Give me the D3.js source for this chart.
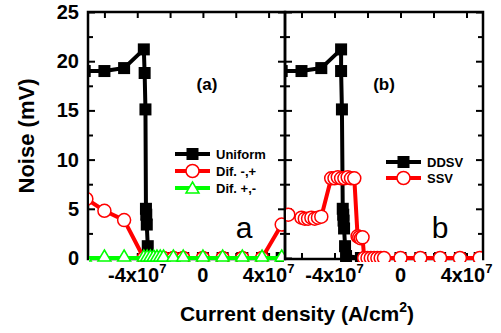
<!DOCTYPE html>
<html>
<head>
<meta charset="utf-8">
<style>
body { margin: 0; background: #fff; }
svg { font-family: "Liberation Sans", Arial, sans-serif; }
.frame { fill: none; stroke: #000; stroke-width: 2.5px; }
.tick line { stroke: #000; stroke-width: 2px; }
.domain { display: none; }
</style>
</head>
<body>
<svg width="501" height="333"></svg>
<script src="https://d3js.org/d3.v7.min.js"></script>
<script>
// current density in units of 1e7 A/cm2, noise in mV

// panel (a)
const uniformX = [-7.2, -6.0, -4.8, -3.6, -3.55, -3.5, -3.47, -3.45, -3.42, -3.36, -3.3, -2.4, -1.2, 0, 1.2, 2.4, 3.6, 4.8];
const uniformY = [19.0, 19.0, 19.3, 21.2, 18.8, 15.1, 5.0, 4.4, 3.4, 1.2, 0.2, 0, 0, 0, 0, 0, 0, 0];

const difMPX = [-7.1, -6.0, -4.8, -3.6, -3.4, -3.2, -3.0, -2.8, -2.6, -2.4, -1.8, -1.2, 0, 1.2, 2.4, 3.6, 4.8];
const difMPY = [6.0, 4.8, 3.85, 0, 0, 0, 0, 0, 0, 0, 0, 0, 0, 0, 0, 0, 3.4];

const difPMX = [-7.2, -6.0, -4.8, -3.6, -3.4, -3.2, -3.0, -2.8, -2.6, -2.4, -1.8, -1.2, 0, 1.2, 2.4, 3.6, 4.8];
const difPMY = [0, 0, 0, 0, 0, 0, 0, 0, 0, 0, 0, 0, 0, 0, 0, 0, 0];

// panel (b)
const ddsvX = [-7.2, -6.0, -4.8, -3.6, -3.6, -3.55, -3.5, -3.47, -3.45, -3.42, -3.36, -3.3, -2.4, -1.2, 0, 1.2, 2.4, 3.6, 4.8];
const ddsvY = [19.0, 19.0, 19.3, 21.2, 19.0, 15.1, 5.0, 4.4, 3.8, 3.0, 1.2, 0.2, 0, 0, 0, 0, 0, 0, 0];

const ssvX = [-6.8, -6.0, -5.8, -5.6, -5.4, -5.2, -5.0, -4.8, -4.2, -4.0, -3.8, -3.6, -3.4, -3.2, -3.0, -2.8, -2.6, -2.5, -2.4, -2.3, -2.2, -2.0, -1.8, -1.6, -1.4, -1.2, -1.0, 0, 1.2, 2.4, 3.6, 4.8];
const ssvY = [4.4, 4.1, 4.0, 4.0, 4.1, 4.0, 4.1, 4.2, 8.1, 8.1, 8.2, 8.1, 8.1, 8.2, 8.1, 8.1, 2.2, 2.1, 2.0, 2.1, 0, 0, 0, 0, 0, 0, 0, 0, 0, 0, 0, 0];

const xMajor = [-4, 0, 4];
const xMinor = [-6, -4, -2, 0, 2, 4];
const yMajor = [0, 5, 10, 15, 20, 25];
const yMinor = [2.5, 7.5, 12.5, 17.5, 22.5];

const svg = d3.select('svg');
const yTop = 12, yBot = 259;

const y = d3.scaleLinear().domain([0, 25]).range([yBot - 1, yTop]);

const panels = [
  { id: 'a', x0: 88, x1: 285, tag: '(a)', letter: 'a',
    series: [
      { name: 'Uniform', xs: uniformX, ys: uniformY, color: '#000', shape: 'square' },
      { name: 'Dif. -,+', xs: difMPX, ys: difMPY, color: '#ff0000', shape: 'circle' },
      { name: 'Dif. +,-', xs: difPMX, ys: difPMY, color: '#00ff00', shape: 'triangle' }
    ],
    legend: { x: 175, y: 154, dy: 17 }, tagPos: [207, 90], letterPos: [244, 238] },
  { id: 'b', x0: 285, x1: 483, tag: '(b)', letter: 'b',
    series: [
      { name: 'DDSV', xs: ddsvX, ys: ddsvY, color: '#000', shape: 'square' },
      { name: 'SSV', xs: ssvX, ys: ssvY, color: '#ff0000', shape: 'circle' }
    ],
    legend: { x: 386, y: 162, dy: 16 }, tagPos: [384, 90], letterPos: [440, 238] }
];

function drawMarker(g, shape, color, cx, cy) {
  if (shape === 'square') {
    g.append('rect').attr('x', cx - 6).attr('y', cy - 6).attr('width', 12).attr('height', 12)
      .attr('fill', color);
  } else if (shape === 'circle') {
    g.append('circle').attr('cx', cx).attr('cy', cy).attr('r', 6.5)
      .attr('fill', '#fff').attr('stroke', color).attr('stroke-width', 1.5);
  } else {
    g.append('path').attr('d', `M${cx},${cy - 8}L${cx + 6.5},${cy + 3}L${cx - 6.5},${cy + 3}Z`)
      .attr('fill', '#fff').attr('stroke', color).attr('stroke-width', 1.5);
  }
}

panels.forEach(p => {
  const x = d3.scaleLinear().domain([-7, 5]).range([p.x0, p.x1]);

  // ticks, pointing inward
  svg.append('g').attr('transform', `translate(0,${yBot})`)
    .call(d3.axisBottom(x).tickValues(xMinor).tickSize(-6).tickFormat(''));
  svg.append('g').attr('transform', `translate(0,${yTop})`)
    .call(d3.axisTop(x).tickValues(xMinor).tickSize(-6).tickFormat(''));
  svg.append('g').attr('transform', `translate(${p.x0},0)`)
    .call(d3.axisLeft(y).tickValues(yMajor).tickSize(-7).tickFormat(''));
  svg.append('g').attr('transform', `translate(${p.x0},0)`)
    .call(d3.axisLeft(y).tickValues(yMinor).tickSize(-5).tickFormat(''));
  svg.append('g').attr('transform', `translate(${p.x1},0)`)
    .call(d3.axisRight(y).tickValues(yMajor).tickSize(-7).tickFormat(''));
  svg.append('g').attr('transform', `translate(${p.x1},0)`)
    .call(d3.axisRight(y).tickValues(yMinor).tickSize(-5).tickFormat(''));

  svg.append('rect').attr('class', 'frame')
    .attr('x', p.x0).attr('y', yTop).attr('width', p.x1 - p.x0).attr('height', yBot - yTop);

  svg.append('clipPath').attr('id', 'clip' + p.id)
    .append('rect').attr('x', p.x0 + 1).attr('y', yTop).attr('width', p.x1 - p.x0 - 2).attr('height', yBot - yTop + 3);

  const plot = svg.append('g').attr('clip-path', `url(#clip${p.id})`);
  p.series.forEach(s => {
    const pts = s.xs.map((v, i) => [x(v), y(s.ys[i])]);
    plot.append('path')
      .attr('d', d3.line()(pts))
      .attr('fill', 'none').attr('stroke', s.color).attr('stroke-width', 4)
      .attr('stroke-linejoin', 'round');
    const mg = plot.append('g');
    pts.forEach(pt => drawMarker(mg, s.shape, s.color, pt[0], pt[1]));
  });

  // x tick labels
  xMajor.forEach(v => {
    const t = svg.append('text').attr('x', x(v)).attr('y', 282)
      .attr('text-anchor', 'middle').attr('font-size', 20).attr('font-weight', 'bold');
    if (v === 0) { t.text('0'); return; }
    t.append('tspan').text((v < 0 ? '-' : '') + Math.abs(v) + 'x10');
    t.append('tspan').attr('dy', -9).attr('font-size', 13).text('7');
  });

  // legend
  p.series.forEach((s, i) => {
    const ly = p.legend.y + i * p.legend.dy;
    svg.append('line').attr('x1', p.legend.x).attr('x2', p.legend.x + 35)
      .attr('y1', ly).attr('y2', ly).attr('stroke', s.color).attr('stroke-width', 4);
    drawMarker(svg.append('g'), s.shape, s.color, p.legend.x + 17.5, ly + (s.shape === 'triangle' ? 2 : 0));
    svg.append('text').attr('x', p.legend.x + 41).attr('y', ly + 5)
      .attr('font-size', 13).attr('font-weight', 'bold').text(s.name);
  });

  svg.append('text').attr('x', p.tagPos[0]).attr('y', p.tagPos[1])
    .attr('text-anchor', 'middle').attr('font-size', 17).attr('font-weight', 'bold').text(p.tag);
  svg.append('text').attr('x', p.letterPos[0]).attr('y', p.letterPos[1])
    .attr('text-anchor', 'middle').attr('font-size', 30).text(p.letter);
});

// y tick labels (left panel only)
yMajor.forEach(v => {
  svg.append('text').attr('x', 79).attr('y', y(v) + 7)
    .attr('text-anchor', 'end').attr('font-size', 20).attr('font-weight', 'bold').text(v);
});

svg.append('text')
  .attr('transform', 'translate(34,136) rotate(-90)')
  .attr('text-anchor', 'middle').attr('font-size', 22).attr('font-weight', 'bold')
  .text('Noise (mV)');

const xt = svg.append('text').attr('x', 297).attr('y', 321)
  .attr('text-anchor', 'middle').attr('font-size', 21).attr('font-weight', 'bold');
xt.append('tspan').text('Current density (A/cm');
xt.append('tspan').attr('dy', -9).attr('font-size', 14).text('2');
xt.append('tspan').attr('dy', 9).text(')');
</script>
</body>
</html>
